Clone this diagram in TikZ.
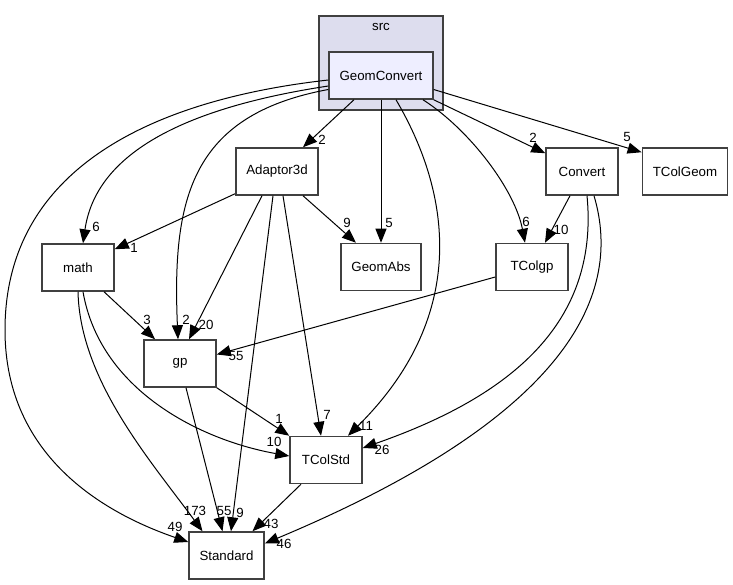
\documentclass[tikz,border=0pt]{standalone}
\usepackage{fontspec}
\setmainfont{Liberation Sans}
\usetikzlibrary{arrows.meta,positioning}
\definecolor{boxline}{HTML}{404040}
\definecolor{dirfill}{HTML}{DDDDEE}
\definecolor{curfill}{HTML}{EEEEFF}
\begin{document}
\begin{tikzpicture}[x=1pt,y=-1pt,
  every node/.style={font=\fontsize{13.3}{16}\selectfont},
  dir/.style={draw=boxline,line width=1.5pt,fill=white,minimum width=72pt,minimum height=47pt,inner xsep=10.5pt},
  dep/.style={-{Triangle[length=14pt,width=11pt]},line width=1pt},
  num/.style={inner sep=0pt}
]
\useasboundingbox (0,0) rectangle (733,585);

% cluster src
\node[draw=boxline,line width=1.3pt,fill=dirfill,minimum width=124pt,minimum height=94pt] (src) at (381,63) {};
\node[inner sep=0pt] (srclabel) at (381,27) {src};

% directories
\node[dir,fill=curfill] (gconv) at (381,75.5) {GeomConvert};
\node[dir] (adaptor) at (277,171.5) {Adaptor3d};
\node[dir] (convert) at (582,171.5) {Convert};
\node[dir] (tcolgeom) at (685,171.5) {TColGeom};
\node[dir] (math) at (78,267.5) {math};
\node[dir] (geomabs) at (381,267) {GeomAbs};
\node[dir] (tcolgp) at (532,267) {TColgp};
\node[dir] (gp) at (180,363.5) {gp};
\node[dir] (tcolstd) at (326,460) {TColStd};
\node[dir] (standard) at (226.5,555.5) {Standard};

% dependencies of GeomConvert
\draw[dep] ([xshift=-27]gconv.south) -- ([xshift=26]adaptor.north);
\draw[dep] (gconv.south) -- (geomabs.north);
\draw[dep] ([xshift=15]gconv.south) .. controls (455,200) and (465,320) .. ([xshift=22]tcolstd.north);
\draw[dep] ([xshift=42]gconv.south) .. controls (470,130) and (515,190) .. ([xshift=-7]tcolgp.north);
\draw[dep] (gconv.south east) -- ([yshift=-6]convert.north west);
\draw[dep] ([yshift=-14]gconv.east) -- ([yshift=-5]tcolgeom.north west);
\draw[dep] ([yshift=-10.5]gconv.west) .. controls (170,110) and (95,160) .. ([xshift=5]math.north);
\draw[dep] ([yshift=-14]gconv.west) .. controls (190,115) and (172,200) .. ([xshift=-2]gp.north);
\draw[dep] ([yshift=-4.5]gconv.west) .. controls (150,100) and (5,170) .. (5,330)
  .. controls (5,460) and (110,515) .. ([yshift=13.5]standard.west);

% dependencies of Adaptor3d
\draw[dep] ([yshift=2]adaptor.south west) -- ([yshift=-6]math.north east);
\draw[dep] ([xshift=-15]adaptor.south) -- ([xshift=9]gp.north);
\draw[dep] ([xshift=-4]adaptor.south) -- ([xshift=4.5]standard.north);
\draw[dep] ([xshift=6]adaptor.south) -- ([xshift=-5]tcolstd.north);
\draw[dep] ([xshift=26]adaptor.south) -- ([xshift=-25]geomabs.north);

% dependencies of Convert
\draw[dep] ([xshift=-12]convert.south) -- ([xshift=13]tcolgp.north);
\draw[dep] ([xshift=5]convert.south) .. controls (600,330) and (500,400) .. ([yshift=12]tcolstd.east);
\draw[dep] ([xshift=12]convert.south) .. controls (625,300) and (560,420) .. ([yshift=12]standard.east);

% the rest
\draw[dep] ([yshift=-10]tcolgp.west) -- ([yshift=9]gp.east);
\draw[dep] ([xshift=26]math.south) -- ([xshift=-25]gp.north);
\draw[dep] ([xshift=5]math.south) .. controls (100,390) and (200,440) .. ([yshift=4]tcolstd.west);
\draw[dep] (math.south) .. controls (80,380) and (150,460) .. ([xshift=-24]standard.north);
\draw[dep] (gp.south east) -- (tcolstd.north west);
\draw[dep] ([xshift=6]gp.south) -- ([xshift=-4]standard.north);
\draw[dep] ([xshift=-25]tcolstd.south) -- ([xshift=26]standard.north);

% edge counts
\foreach \x/\y/\t [count=\i] in {322/140/2, 533/138/2, 627/137/5, 526/222/6, 561/230/10,
  96/227/6, 134/248/1, 347/223/9, 389/223/5, 147/320/3, 186/320/2, 206/325/20,
  236/356/55, 279/419/1, 327/415/7, 366/426/11, 274/442/10, 382/450/26,
  195/511/173, 224/511/55, 240/513/9, 271/524/43, 175/527/49, 284/544/46}
  \node[num] (cnt\i) at (\x,\y) {\t};
\end{tikzpicture}
\end{document}
